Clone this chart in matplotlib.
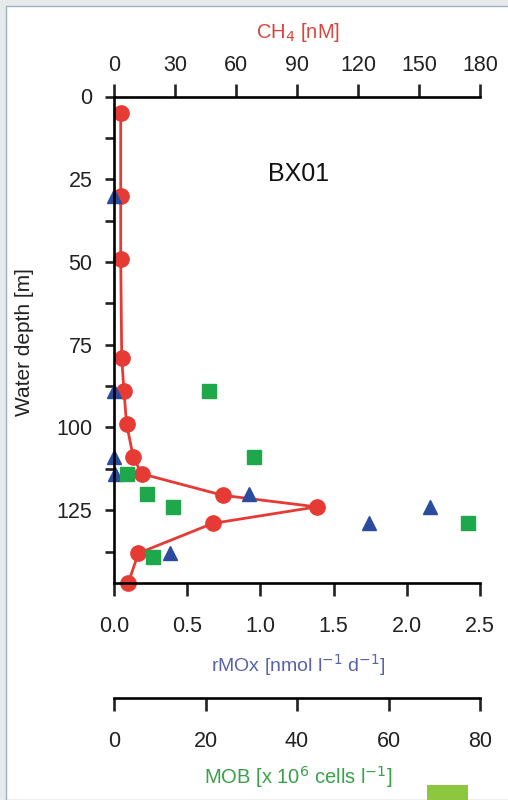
import matplotlib
matplotlib.use("Agg")
import matplotlib.pyplot as plt
from matplotlib.patches import Rectangle
from matplotlib.ticker import MultipleLocator

plt.rcParams['font.family'] = ['Liberation Sans', 'DejaVu Sans']

# CH4 profile (red)
depth_ch4 = [5, 30, 49, 79, 89, 99, 109, 114, 120.5, 124, 129, 138, 147]
ch4 = [3.3, 3.3, 3.3, 3.8, 4.9, 6.2, 9.5, 13.6, 53.5, 99.7, 48.5, 12, 7]

# methane oxidation rate (blue triangles)
depth_rmox = [30, 89, 109, 114, 120, 124, 129, 138]
rmox = [0.0, 0.0, 0.0, 0.01, 0.92, 2.16, 1.74, 0.38]

# methanotrophic bacteria (green squares)
depth_mob = [89, 109, 114, 120, 124, 129, 139]
mob = [20.8, 30.5, 2.9, 7.3, 13.0, 77.3, 8.5]

station = "BX01"

red = '#e63a34'
blue = '#2b4c9e'
green = '#1fa84b'
tick_fs = 15.5

fig = plt.figure(figsize=(5.08, 8.0), dpi=100)
fig.patch.set_facecolor('#e6eaea')
fig.patches.append(Rectangle((6 / 508, 0), 1, 1 - 6 / 800, transform=fig.transFigure,
                             facecolor='white', edgecolor='#9fb0c0', lw=1, zorder=-1))
fig.patches.append(Rectangle((427 / 508, 0), 41 / 508, 15 / 800, transform=fig.transFigure,
                             facecolor='#8dc63f', edgecolor='none', zorder=-1))

ax = fig.add_axes([114 / 508, 1 - 583 / 800, 366 / 508, 486.5 / 800])
ax_ch4 = ax.twiny()
ax_mob = ax.twiny()
ax_ch4.set_zorder(1)
ax.set_zorder(2)
ax_mob.set_zorder(3)
for a in (ax, ax_ch4, ax_mob):
    a.patch.set_visible(False)
    a.spines['right'].set_visible(False)
    for s in a.spines.values():
        s.set_linewidth(1.9)

# depth axis
ax.set_ylim(147, 0)
ax.yaxis.set_major_locator(MultipleLocator(25))
ax.set_yticks([12.5, 37.5, 62.5, 87.5, 112.5, 137.5], minor=True)
ax.tick_params(axis='y', which='both', direction='out', length=6.5, width=1.9,
               labelsize=tick_fs, pad=9, colors='#222222')
ax.spines['top'].set_visible(False)

# rMOx axis (bottom)
ax.set_xlim(0, 2.5)
ax.set_xticks([0, 0.5, 1.0, 1.5, 2.0, 2.5])
ax.set_xticklabels(['0.0', '0.5', '1.0', '1.5', '2.0', '2.5'])
ax.tick_params(axis='x', direction='out', length=9, width=1.9, labelsize=tick_fs, pad=15,
               colors='#222222')

# CH4 axis (top)
ax_ch4.set_xlim(0, 180)
ax_ch4.set_xticks(range(0, 181, 30))
ax_ch4.tick_params(axis='x', direction='out', length=9.5, width=1.9, labelsize=tick_fs, pad=5,
                   colors='#222222')
ax_ch4.spines['left'].set_visible(False)
ax_ch4.spines['bottom'].set_visible(False)

# MOB axis (lower, detached)
ax_mob.set_xlim(0, 80)
ax_mob.set_xticks(range(0, 81, 20))
ax_mob.xaxis.set_ticks_position('bottom')
ax_mob.xaxis.set_label_position('bottom')
ax_mob.spines['bottom'].set_position(('axes', -115 / 486.5))
ax_mob.spines['top'].set_visible(False)
ax_mob.spines['left'].set_visible(False)
ax_mob.tick_params(axis='x', direction='out', length=9.5, width=1.9, labelsize=tick_fs, pad=14,
                   colors='#222222')

ax_ch4.plot(ch4, depth_ch4, '-o', color=red, lw=2, ms=11, clip_on=False)
ax.plot(rmox, depth_rmox, '^', color=blue, ms=10.5, ls='none', clip_on=False)
ax_mob.plot(mob, depth_mob, 's', color=green, ms=9.5, ls='none', clip_on=False)

ax.text(0.503, 0.841, station, transform=ax.transAxes, fontsize=18, ha='center', va='center',
        color='#111111')

fig.text(298 / 508, 1 - 33 / 800, 'CH$_4$ [nM]', color='#d9453c', fontsize=14.5,
         ha='center', va='center')
fig.text(298 / 508, 1 - 665 / 800, 'rMOx [nmol l$^{-1}$ d$^{-1}$]', color='#5a62a8',
         fontsize=14, ha='center', va='center')
fig.text(298 / 508, 1 - 777 / 800, 'MOB [x 10$^{6}$ cells l$^{-1}$]', color='#3aa04a',
         fontsize=14.5, ha='center', va='center')
fig.text(25 / 508, 1 - 342 / 800, 'Water depth [m]', color='#222222', fontsize=15,
         ha='center', va='center', rotation=90)

fig.savefig('out.png', dpi=100)
